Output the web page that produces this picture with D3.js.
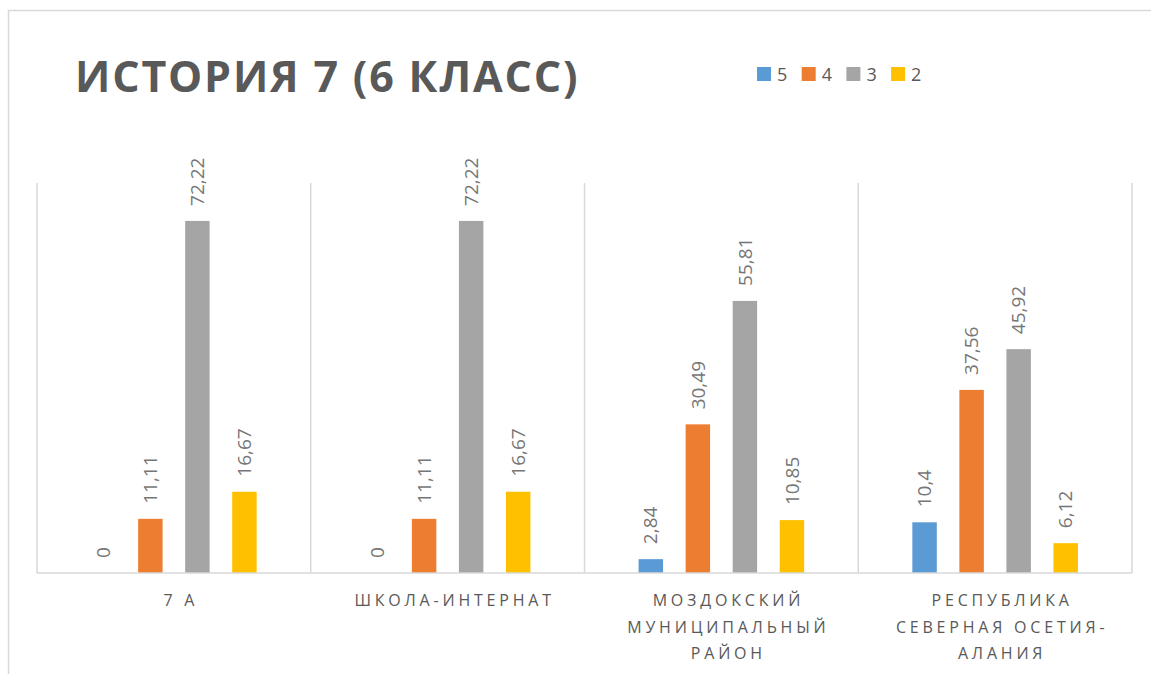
<!DOCTYPE html>
<html>
<head>
<meta charset="utf-8">
<script src="https://cdn.jsdelivr.net/npm/d3@7"></script>
<style>
  body { margin: 0; background: #fff; }
  text { font-family: "Open Sans", sans-serif; }
</style>
</head>
<body>
<div id="chart"></div>
<script>
const ancho = 1151;
const alto = 674;
const margen = { superior: 183, inferior: 101, izquierdo: 37, derecho: 19 };

// datos
const titulo = "ИСТОРИЯ 7 (6 КЛАСС)";
const categorias = ["7 А", "ШКОЛА-ИНТЕРНАТ", "МОЗДОКСКИЙ МУНИЦИПАЛЬНЫЙ РАЙОН", "РЕСПУБЛИКА СЕВЕРНАЯ ОСЕТИЯ-АЛАНИЯ"];
const lineasCategoria = [
  ["7 А"],
  ["ШКОЛА-ИНТЕРНАТ"],
  ["МОЗДОКСКИЙ", "МУНИЦИПАЛЬНЫЙ", "РАЙОН"],
  ["РЕСПУБЛИКА", "СЕВЕРНАЯ ОСЕТИЯ-", "АЛАНИЯ"],
];
const series = ["5", "4", "3", "2"];
const valores5 = [0, 0, 2.84, 10.4];
const valores4 = [11.11, 11.11, 30.49, 37.56];
const valores3 = [72.22, 72.22, 55.81, 45.92];
const valores2 = [16.67, 16.67, 10.85, 6.12];
const colores = ["#5b9bd5", "#ed7d31", "#a5a5a5", "#ffc000"];

const valoresPorSerie = [valores5, valores4, valores3, valores2];
const misDatos = [];
categorias.forEach((c, i) => {
  series.forEach((s, j) => {
    misDatos.push({ cat: c, serie: s, valor: valoresPorSerie[j][i] });
  });
});

const svg = d3
  .select("#chart")
  .append("svg")
  .attr("width", ancho)
  .attr("height", alto);

// marco del grafico
svg
  .append("rect")
  .attr("x", 8.5)
  .attr("y", 10.5)
  .attr("width", ancho + 20)
  .attr("height", alto + 20)
  .attr("fill", "#fff")
  .attr("stroke", "#d9d9d9")
  .attr("stroke-width", 1.5);

// escalas
const x0 = d3
  .scaleBand()
  .domain(categorias)
  .range([margen.izquierdo, ancho - margen.derecho]);
const x1 = d3
  .scaleBand()
  .domain(series)
  .range([0, x0.bandwidth()])
  .paddingInner(0.48)
  .paddingOuter(1.15);
const y = d3
  .scaleLinear()
  .domain([0, 80])
  .range([alto - margen.inferior, margen.superior]);
const color = d3.scaleOrdinal().domain(series).range(colores);

// separadores de categorias
const bordes = categorias.map((c) => x0(c)).concat([x0.range()[1]]);
svg
  .append("g")
  .selectAll("line")
  .data(bordes)
  .join("line")
  .attr("x1", (d) => d)
  .attr("x2", (d) => d)
  .attr("y1", y(80))
  .attr("y2", y(0))
  .attr("stroke", "#d9d9d9")
  .attr("stroke-width", 1.5);

// barras
const grupoBarras = svg.append("g");
grupoBarras
  .selectAll("rect")
  .data(misDatos)
  .join("rect")
  .attr("x", (d) => x0(d.cat) + x1(d.serie))
  .attr("y", (d) => y(d.valor))
  .attr("width", x1.bandwidth())
  .attr("height", (d) => y(0) - y(d.valor))
  .attr("fill", (d) => color(d.serie));

// eje horizontal
svg
  .append("line")
  .attr("x1", x0.range()[0])
  .attr("x2", x0.range()[1])
  .attr("y1", y(0))
  .attr("y2", y(0))
  .attr("stroke", "#d9d9d9")
  .attr("stroke-width", 1.5);

// etiquetas de datos (rotadas)
grupoBarras
  .selectAll("text")
  .data(misDatos)
  .join("text")
  .attr("transform", (d) => {
    const cx = x0(d.cat) + x1(d.serie) + x1.bandwidth() / 2;
    return `translate(${cx}, ${y(d.valor) - 15}) rotate(-90)`;
  })
  .attr("dy", "0.35em")
  .attr("font-size", 19)
  .attr("fill", "#767676")
  .text((d) => String(d.valor).replace(".", ","));

// etiquetas de categorias
const grupoCat = svg.append("g");
lineasCategoria.forEach((lineas, i) => {
  const cx = x0(categorias[i]) + x0.bandwidth() / 2;
  const t = grupoCat
    .append("text")
    .attr("text-anchor", "middle")
    .attr("font-size", 16)
    .attr("letter-spacing", 3.8)
    .attr("fill", "#595959");
  lineas.forEach((l, k) => {
    t.append("tspan")
      .attr("x", cx + 7)
      .attr("y", 606 + k * 26.5)
      .text(l);
  });
});

// titulo
svg
  .append("text")
  .attr("x", 75)
  .attr("y", 92)
  .attr("font-size", 43)
  .attr("font-weight", "bold")
  .attr("letter-spacing", 1.8)
  .attr("fill", "#595959")
  .text(titulo);

// leyenda
const leyenda = svg
  .append("g")
  .selectAll("g")
  .data(series)
  .join("g")
  .attr("transform", (d, i) => `translate(${757 + i * 44.7}, 67)`);
leyenda
  .append("rect")
  .attr("width", 14)
  .attr("height", 14)
  .attr("fill", (d) => color(d));
leyenda
  .append("text")
  .attr("x", 20)
  .attr("y", 14)
  .attr("font-size", 18)
  .attr("fill", "#595959")
  .text((d) => d);
</script>
</body>
</html>
